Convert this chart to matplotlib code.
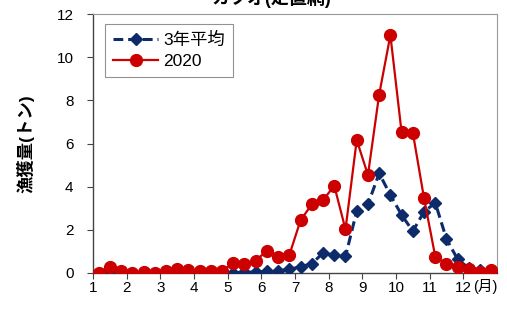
import matplotlib
matplotlib.use("Agg")
import matplotlib.pyplot as plt
import numpy as np

plt.rcParams['font.family'] = ['Liberation Sans', 'Noto Sans CJK JP', 'DejaVu Sans']

# 36 points: 3 per month (early / mid / late)
avg3 = [0.02, 0.01, 0.02, 0.01, 0.01, 0.01, 0.02, 0.02, 0.02, 0.02, 0.02, 0.02,
        0.02, 0.03, 0.05, 0.07, 0.10, 0.17, 0.29, 0.43, 0.93, 0.82, 0.77, 2.87,
        3.18, 4.62, 3.61, 2.69, 1.94, 2.84, 3.25, 1.57, 0.63, 0.22, 0.12, 0.05]
y2020 = [0.02, 0.30, 0.10, 0.02, 0.05, 0.02, 0.10, 0.20, 0.15, 0.10, 0.10, 0.10,
         0.46, 0.40, 0.57, 1.04, 0.73, 0.84, 2.45, 3.18, 3.38, 4.04, 2.02, 6.16,
         4.54, 8.27, 11.02, 6.51, 6.50, 3.46, 0.76, 0.42, 0.26, 0.17, 0.06, 0.14]
month_ticks = [1, 2, 3, 4, 5, 6, 7, 8, 9, 10, 11, 12]
y_ticks = [0, 2, 4, 6, 8, 10, 12]

x = np.array([m + (k + 0.5) / 3 for m in range(1, 13) for k in range(3)])

fig = plt.figure(figsize=(5.07, 3.11), dpi=100)
ax = fig.add_axes([93/507, 38/311, 404/507, 259/311])

ax.plot(x, avg3, color='#0d2a6b', linestyle=(0, (3.2, 1.6)), linewidth=2.2,
        marker='D', markersize=6.5, label='3年平均', zorder=3)
ax.plot(x, y2020, color='#cc0000', linewidth=1.6,
        marker='o', markersize=8.5, label='2020', zorder=4)

ax.set_xlim(1, 13)
ax.set_ylim(0, 12)
ax.set_xticks(month_ticks)
ax.set_yticks(y_ticks)
ax.tick_params(axis='both', labelsize=11, length=4, width=0.8, color='#444444', direction='out')
ax.tick_params(axis='x', pad=2)
ax.tick_params(axis='y', pad=10)
for s in ['top', 'right']:
    ax.spines[s].set_color('#999999')
    ax.spines[s].set_linewidth(0.8)
for s in ['left', 'bottom']:
    ax.spines[s].set_color('#444444')
    ax.spines[s].set_linewidth(1.0)

ax.set_ylabel('漁獲量(トン)', fontsize=12.5, fontweight='bold', labelpad=16)
ax.text(12.28, -0.3, '(月)', fontsize=10.5, ha='left', va='top', transform=ax.transData,
        clip_on=False)

leg = ax.legend(loc='upper left', bbox_to_anchor=(0.03, 0.96), fontsize=12.5,
                frameon=True, fancybox=False, edgecolor='#777777', borderaxespad=0,
                handlelength=2.6, borderpad=0.45, labelspacing=0.35, handletextpad=0.3)
leg.get_frame().set_linewidth(0.8)

fig.text(0.535, 1.005, 'カツオ(定置網)', fontsize=13, fontweight='bold', ha='center', va='center')

fig.savefig('out.png', dpi=100)
